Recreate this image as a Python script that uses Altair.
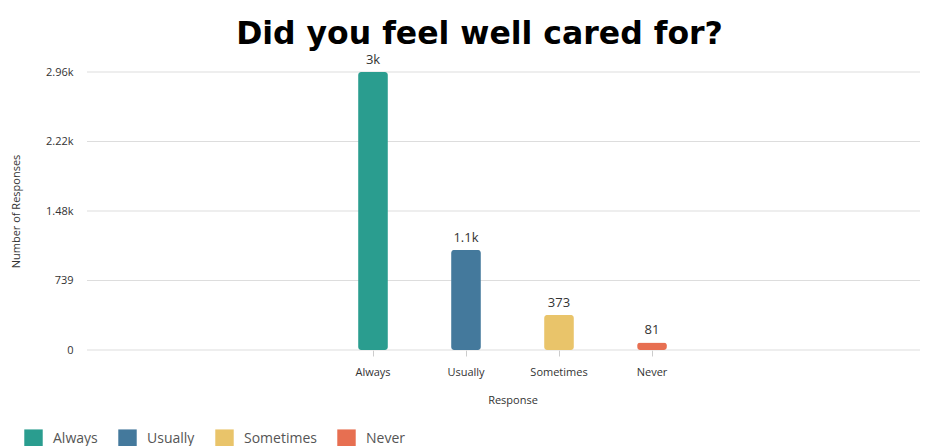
import altair as alt
import pandas as pd

responses = ["Always", "Usually", "Sometimes", "Never"]
counts = [2957, 1064, 373, 81]
labels = ["3k", "1.1k", "373", "81"]
colors = ["#2a9d8f", "#44799c", "#e9c46a", "#e76f51"]
y_ticks = [0, 739.25, 1478.5, 2217.75, 2957]

df = pd.DataFrame({"Response": responses, "Count": counts, "Label": labels})
grid_df = pd.DataFrame({"Tick": y_ticks})

FONT = "Open Sans"
W, H = 833, 278

yscale = alt.Scale(domain=[0, 2957], nice=False)

x = alt.X(
    "Response:N",
    sort=responses,
    scale=alt.Scale(paddingInner=0.68, paddingOuter=0.34, range=[239.5, 611.5]),
    axis=alt.Axis(
        title="Response", labelAngle=0, labelFontSize=11, labelColor="#333",
        labelFont=FONT, titleFont=FONT, titleFontSize=11, titleFontWeight="normal",
        titleColor="#333", tickColor="#ccc", tickSize=6, labelPadding=10,
        titlePadding=17, domain=False, grid=False,
    ),
)
y = alt.Y(
    "Count:Q",
    scale=yscale,
    axis=alt.Axis(
        title="Number of Responses", values=y_ticks, format=".3~s",
        labelFontSize=11, labelColor="#333", labelFont=FONT, titleFont=FONT,
        titleFontSize=11, titleFontWeight="normal", titleColor="#333",
        ticks=False, labelPadding=14, domain=False, grid=False,
        titlePadding=24,
    ),
)

grid = alt.Chart(grid_df).mark_rule(color="#dddddd", strokeWidth=1).encode(
    y=alt.Y("Tick:Q", scale=yscale),
    x=alt.value(0),
    x2=alt.value(W),
)

bars = alt.Chart(df).mark_bar(cornerRadius=3).encode(
    x=x,
    y=y,
    color=alt.Color(
        "Response:N",
        sort=responses,
        scale=alt.Scale(domain=responses, range=colors),
        legend=alt.Legend(
            title=None, orient="none", legendX=-63, legendY=357, direction="horizontal",
            symbolType="square", symbolSize=340, symbolStrokeWidth=0, symbolOpacity=1,
            labelFontSize=14, labelColor="#555", labelFont=FONT, columnPadding=20,
            labelOffset=10,
        ),
    ),
)

text = alt.Chart(df).mark_text(dy=-12, fontSize=13, color="#333", font=FONT).encode(
    x=alt.X("Response:N", sort=responses),
    y="Count:Q",
    text="Label:N",
)

chart = (
    (grid + bars + text)
    .properties(
        width=W,
        height=H,
        background="white",
        autosize=alt.AutoSizeParams(type="none"),
        padding={"left": 87, "top": 72, "right": 5, "bottom": 96},
        title=alt.Title(
            "Did you feel well cared for?", fontSize=31.5, font="DejaVu Sans",
            fontWeight="bold", color="#000", anchor="middle", dx=-24, offset=-21,
            baseline="alphabetic",
        ),
    )
    .configure_view(strokeWidth=0, stroke="transparent")
)

chart.save("out.html", embed_options={"renderer": "svg", "actions": False})
